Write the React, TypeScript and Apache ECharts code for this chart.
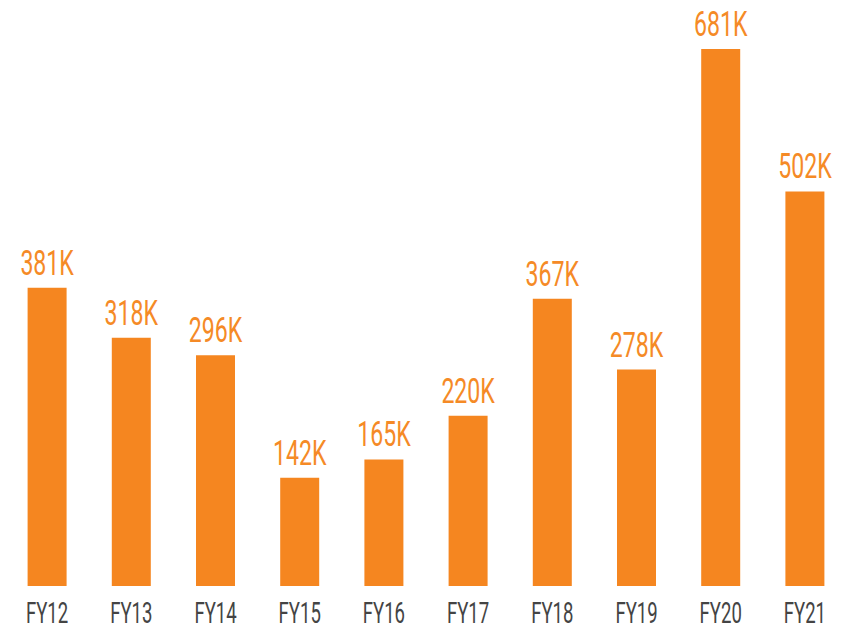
import React, { useEffect, useRef } from "react";
import * as echarts from "echarts";

const categories = ["FY12", "FY13", "FY14", "FY15", "FY16", "FY17", "FY18", "FY19", "FY20", "FY21"];
const values = [381, 318, 296, 142, 165, 220, 367, 278, 681, 502];
const yMin = 6;
const yMax = 681;

const FONT = "Roboto, 'Noto Sans', sans-serif";

export default function App() {
  const ref = useRef<HTMLDivElement>(null);
  useEffect(() => {
    if (!ref.current) return;
    const chart = echarts.init(ref.current, null, { renderer: "svg" });
    chart.setOption({
      animation: false,
      grid: { left: 5, right: 9, top: 49, bottom: 44, containLabel: false },
      xAxis: {
        type: "category",
        data: categories,
        axisLine: { show: false },
        axisTick: { show: false },
        axisLabel: { show: false },
      },
      yAxis: {
        type: "value",
        min: yMin,
        max: yMax,
        show: false,
        splitLine: { show: false },
      },
      series: [
        {
          type: "bar",
          data: values,
          barWidth: 39,
          itemStyle: { color: "#F58620" },
        },
        {
          type: "custom",
          data: values.map((v, i) => [i, v]),
          encode: { x: 0, y: 1 },
          z: 5,
          renderItem: (params: any, api: any) => {
            const idx = api.value(0);
            const v = api.value(1);
            const top = api.coord([idx, v]);
            const base = api.coord([idx, yMin]);
            return {
              type: "group",
              children: [
                {
                  type: "text",
                  x: top[0],
                  y: top[1] - 8,
                  scaleX: 0.66,
                  scaleY: 1,
                  style: {
                    text: v + "K",
                    fill: "#F58A26",
                    fontSize: 35,
                    fontWeight: 400,
                    fontFamily: FONT,
                    align: "center",
                    verticalAlign: "bottom",
                  },
                },
                {
                  type: "text",
                  x: base[0],
                  y: base[1] + 27,
                  scaleX: 0.64,
                  scaleY: 1,
                  style: {
                    text: categories[idx],
                    fill: "#444444",
                    fontSize: 29,
                    lineHeight: 26,
                    fontWeight: 400,
                    fontFamily: FONT,
                    align: "center",
                    verticalAlign: "middle",
                  },
                },
              ],
            };
          },
        },
      ],
    });
    return () => chart.dispose();
  }, []);
  return <div ref={ref} style={{ width: 856, height: 630, position: "absolute", left: 0, top: 0 }} />;
}
